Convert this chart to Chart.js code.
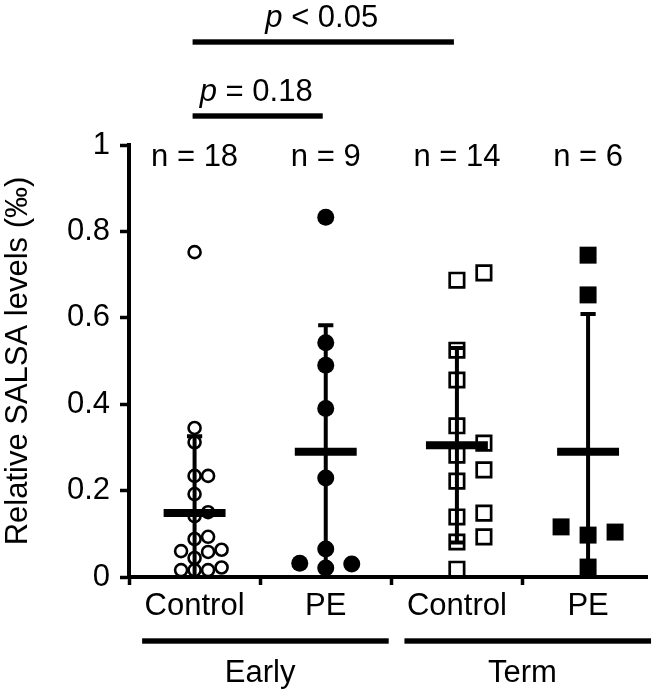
<!DOCTYPE html>
<html><head><meta charset="utf-8">
<script src="https://cdn.jsdelivr.net/npm/chart.js@4/dist/chart.umd.min.js"></script>
<style>html,body{margin:0;padding:0;background:#fff;overflow:hidden}#wrap{width:660px;height:690px;position:relative}</style>
</head><body><div id="wrap"><canvas id="c" width="660" height="690"></canvas></div>
<script>
// ---------- data ----------
const categories = ['Control', 'PE', 'Control', 'PE'];
const groupNames = ['Early', 'Term'];
const groupStart = [0, 2];
const groupEnd = [1, 3];
const earlyControl = [0.752, 0.345, 0.312, 0.234, 0.234, 0.192, 0.15, 0.141, 0.093, 0.088, 0.063, 0.06, 0.058, 0.044, 0.022, 0.016, 0.016, 0.016];
const earlyPE = [0.833, 0.542, 0.49, 0.39, 0.229, 0.065, 0.021, 0.03, 0.032];
const termControl = [0.704, 0.687, 0.525, 0.456, 0.35, 0.31, 0.282, 0.248, 0.222, 0.148, 0.139, 0.093, 0.081, 0.018];
const termPE = [0.745, 0.653, 0.097, 0.104, 0.116, 0.023];
const means = [0.148, 0.29, 0.305, 0.29];
const sds = [0.178, 0.293, 0.225, 0.319];
const nCounts = [18, 9, 14, 6];
const yTicks = [0, 0.2, 0.4, 0.6, 0.8, 1];
const pFrom = [0, 0];
const pTo = [2, 1];
const pRel = ['< 0.05', '= 0.18'];

const FONT = "'Liberation Sans', Arial, Helvetica, sans-serif";
Chart.defaults.font.family = FONT;
Chart.defaults.font.size = 31;
Chart.defaults.color = '#000';

const seriesList = [earlyControl, earlyPE, termControl, termPE];

// error bars & means built from the arrays
const errPts = [];
const meanPts = [];
means.forEach((m, i) => {
  const hi = m + sds[i];
  const lo = Math.max(0, m - sds[i]);
  errPts.push({x: i, y: lo}, {x: i, y: hi}, {x: i, y: null});
  errPts.push({x: i - 0.058, y: hi}, {x: i + 0.058, y: hi}, {x: i, y: null});
  if (m - sds[i] > 0) errPts.push({x: i - 0.058, y: lo}, {x: i + 0.058, y: lo}, {x: i, y: null});
  meanPts.push({x: i - 0.236, y: m}, {x: i + 0.236, y: m}, {x: i, y: null});
});

const styles = [
  {pointStyle: 'circle', pointRadius: 6, borderWidth: 2.6, bg: '#fff', step: 13.5, minDist: 12},
  {pointStyle: 'circle', pointRadius: 8.5, borderWidth: 0, bg: '#000', step: 26, minDist: 16},
  {pointStyle: 'rect', pointRadius: 10.2, borderWidth: 2.7, bg: '#fff', step: 27, minDist: 16},
  {pointStyle: 'rect', pointRadius: 12, borderWidth: 0, bg: '#000', step: 27, minDist: 17}
];

const pointSets = seriesList.map((vals, i) => ({
  type: 'scatter',
  label: categories[i] + i,
  data: vals.map(v => ({x: i, y: v})),
  pointStyle: styles[i].pointStyle,
  pointRadius: styles[i].pointRadius,
  pointHoverRadius: styles[i].pointRadius,
  pointBorderWidth: styles[i].borderWidth,
  pointBorderColor: '#000',
  pointBackgroundColor: styles[i].bg,
  showLine: false,
  order: 2
}));

const annot = {
  id: 'annot',
  afterDraw(chart) {
    const ctx = chart.ctx, xs = chart.scales.x, ys = chart.scales.y;
    const top = chart.chartArea.top;
    ctx.save();
    ctx.fillStyle = '#000';
    ctx.strokeStyle = '#000';
    // n labels
    ctx.font = '31px ' + FONT;
    ctx.textAlign = 'center';
    ctx.textBaseline = 'alphabetic';
    nCounts.forEach((n, i) => {
      ctx.fillText('n = ' + n, xs.getPixelForValue(i), ys.getPixelForValue(1) + 21);
    });
    // p brackets
    pFrom.forEach((f, k) => {
      const t = pTo[k];
      const level = (t - f) - 1;
      const ly = top - 29 - level * 74;
      const x0 = xs.getPixelForValue(f) - 2, x1 = xs.getPixelForValue(t) - 3;
      ctx.fillRect(x0, ly - 2.7, x1 - x0, 5.4);
      const italic = 'italic 31px ' + FONT, normal = '31px ' + FONT;
      ctx.font = italic; const wp = ctx.measureText('p').width;
      ctx.font = normal; const wr = ctx.measureText(' ' + pRel[k]).width;
      const cx = (xs.getPixelForValue(f) + xs.getPixelForValue(t)) / 2 - 4;
      let sx = cx - (wp + wr) / 2;
      ctx.textAlign = 'left';
      ctx.font = italic; ctx.fillText('p', sx, ly - 15);
      ctx.font = normal; ctx.fillText(' ' + pRel[k], sx + wp, ly - 15);
    });
    // group bars
    ctx.textAlign = 'center';
    ctx.font = '31px ' + FONT;
    groupNames.forEach((g, k) => {
      const x0 = xs.getPixelForValue(groupStart[k] - 0.4), x1 = xs.getPixelForValue(groupEnd[k] + 0.48);
      ctx.fillRect(x0, 638.3, x1 - x0, 5.4);
      ctx.fillText(g, xs.getPixelForValue((groupStart[k] + groupEnd[k]) / 2), 682);
    });
    ctx.restore();
  }
};

const chart = new Chart(document.getElementById('c'), {
  type: 'scatter',
  data: {
    datasets: [
      ...pointSets,
      {type: 'scatter', label: 'sd', data: errPts, showLine: true, spanGaps: false, borderColor: '#000', borderWidth: 4, pointRadius: 0, borderCapStyle: 'butt', order: 1},
      {type: 'scatter', label: 'mean', data: meanPts, showLine: true, spanGaps: false, borderColor: '#000', borderWidth: 8, pointRadius: 0, borderCapStyle: 'butt', order: 0}
    ]
  },
  options: {
    responsive: false,
    animation: false,
    devicePixelRatio: 1,
    layout: {padding: {top: 145, bottom: 61, left: 0, right: 0}},
    plugins: {legend: {display: false}, tooltip: {enabled: false}},
    scales: {
      x: {
        type: 'linear', position: 'bottom', min: -0.5, max: 3.45, bounds: 'data',
        afterBuildTicks: s => { s.ticks = categories.map((_, i) => ({value: i})); },
        afterFit: s => { s.height = 52; },
        ticks: {callback: v => categories[v], autoSkip: false, maxRotation: 0, padding: 3, color: '#000', font: {size: 31}},
        grid: {offset: true, drawOnChartArea: false, tickLength: 8, tickWidth: 3.5, color: '#000', tickColor: '#000'},
        border: {width: 4, color: '#000'}
      },
      y: {
        type: 'linear', min: 0, max: 1,
        afterBuildTicks: s => { s.ticks = yTicks.map(v => ({value: v})); },
        afterFit: s => { s.width = 129; },
        ticks: {callback: v => String(v), padding: 10, color: '#000', font: {size: 31}},
        grid: {drawOnChartArea: false, tickLength: 9, tickWidth: 3.5, color: '#000', tickColor: '#000'},
        border: {width: 4, color: '#000'},
        title: {display: true, text: 'Relative SALSA levels (‰)', color: '#000', font: {size: 31}, padding: 0}
      }
    }
  },
  plugins: [annot]
});

// spread overlapping points horizontally (beeswarm) using the library's scales
function swarm(values, idx, step, minDist) {
  const xs = chart.scales.x, ys = chart.scales.y;
  const unit = xs.getPixelForValue(1) - xs.getPixelForValue(0);
  const order = values.map((v, i) => i).sort((a, b) => values[a] - values[b]);
  const placed = [];
  const res = new Array(values.length);
  for (const i of order) {
    const py = ys.getPixelForValue(values[i]);
    for (let k = 0; k < 30; k++) {
      const slot = k === 0 ? 0 : (k % 2 ? (k + 1) / 2 : -k / 2);
      const px = slot * step;
      if (placed.every(p => Math.hypot(p.x - px, p.y - py) >= minDist)) {
        placed.push({x: px, y: py});
        res[i] = {x: idx + px / unit, y: values[i]};
        break;
      }
    }
  }
  return res;
}
seriesList.forEach((vals, i) => {
  chart.data.datasets[i].data = swarm(vals, i, styles[i].step, styles[i].minDist);
});
chart.update('none');
</script></body></html>
